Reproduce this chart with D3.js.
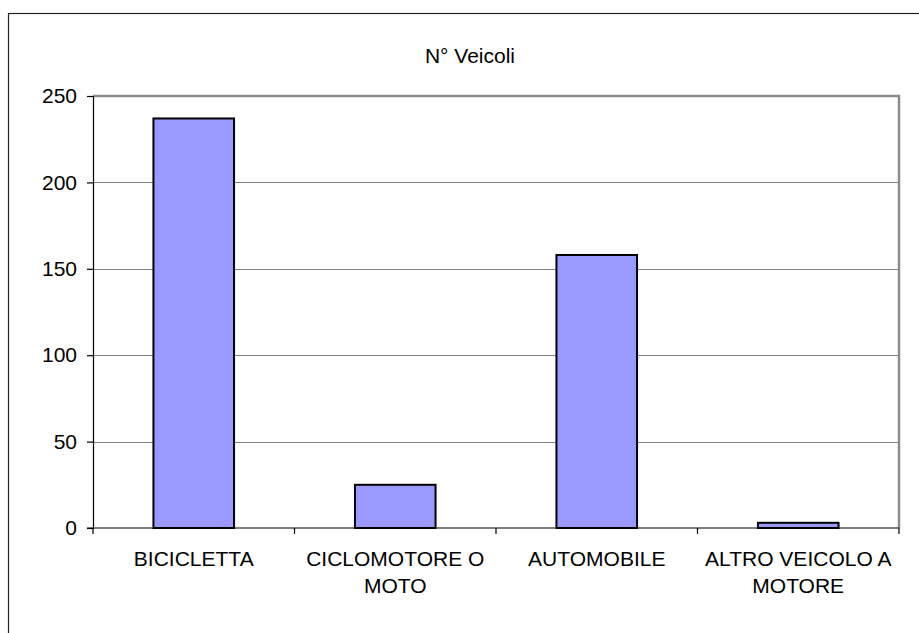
<!DOCTYPE html>
<html>
<head>
<meta charset="utf-8">
<script src="https://cdn.jsdelivr.net/npm/d3@7"></script>
<style>
  body { margin: 0; background: white; }
  svg { display: block; font-family: "Liberation Sans", Arial, sans-serif; }
</style>
</head>
<body>
<div id="chart"></div>
<script>
const categories = ["BICICLETTA", "CICLOMOTORE O MOTO", "AUTOMOBILE", "ALTRO VEICOLO A MOTORE"];
const labelLines = [["BICICLETTA"], ["CICLOMOTORE O", "MOTO"], ["AUTOMOBILE"], ["ALTRO VEICOLO A", "MOTORE"]];
const values = [237, 25, 158, 3];
const yTicks = [0, 50, 100, 150, 200, 250];
const title = "N° Veicoli";

const width = 919, height = 633;
const plot = { left: 93, top: 96, right: 899, bottom: 528 };

const svg = d3.select("#chart").append("svg")
    .attr("width", width)
    .attr("height", height);

// outer chart border (runs off the right and bottom edge)
svg.append("rect")
    .attr("x", 8.5).attr("y", 13.5)
    .attr("width", 1000).attr("height", 1000)
    .attr("fill", "white")
    .attr("stroke", "#222")
    .attr("stroke-width", 1.2);

const x = d3.scaleBand()
    .domain(categories)
    .range([plot.left, plot.right])
    .paddingInner(0.6)
    .paddingOuter(0.3);

const y = d3.scaleLinear()
    .domain([0, 250])
    .range([plot.bottom, plot.top]);

// gridlines
svg.append("g")
    .selectAll("line")
    .data(yTicks.filter(d => d > 0 && d < 250))
    .enter().append("line")
    .attr("x1", plot.left).attr("x2", plot.right)
    .attr("y1", d => Math.round(y(d)) + 0.5)
    .attr("y2", d => Math.round(y(d)) + 0.5)
    .attr("stroke", "#808080")
    .attr("stroke-width", 1);

// plot area border top/right
svg.append("path")
    .attr("d", `M${plot.left},${plot.top} H${plot.right} V${plot.bottom}`)
    .attr("fill", "none")
    .attr("stroke", "#8c8c8c")
    .attr("stroke-width", 2.5);

// bars
svg.append("g")
    .selectAll("rect")
    .data(values)
    .enter().append("rect")
    .attr("x", (d, i) => x(categories[i]))
    .attr("y", d => y(d))
    .attr("width", x.bandwidth())
    .attr("height", d => y(0) - y(d))
    .attr("fill", "#9999FF")
    .attr("stroke", "#000")
    .attr("stroke-width", 2);

// y axis
const yAxis = svg.append("g")
    .attr("transform", `translate(${plot.left},0)`)
    .call(d3.axisLeft(y).tickValues(yTicks).tickSize(6).tickPadding(10));
yAxis.selectAll("path, line").attr("stroke", "#000").attr("stroke-width", 1.2);
yAxis.selectAll("text")
    .attr("font-size", "21px")
    .attr("font-family", "Liberation Sans, Arial, sans-serif")
    .attr("fill", "#000");

// x axis: ticks at category boundaries
const boundaries = d3.range(categories.length + 1).map(i => plot.left + i * x.step() - (i === 0 ? 0 : 0));
const bottomAxis = svg.append("g");
bottomAxis.append("line")
    .attr("x1", plot.left - 6).attr("x2", plot.right)
    .attr("y1", plot.bottom).attr("y2", plot.bottom)
    .attr("stroke", "#000").attr("stroke-width", 1.2);
bottomAxis.selectAll(".tk")
    .data(d3.range(categories.length + 1))
    .enter().append("line")
    .attr("class", "tk")
    .attr("x1", i => plot.left + (plot.right - plot.left) * i / categories.length)
    .attr("x2", i => plot.left + (plot.right - plot.left) * i / categories.length)
    .attr("y1", plot.bottom).attr("y2", plot.bottom + 6)
    .attr("stroke", "#000").attr("stroke-width", 1.2);

// category labels
const lbl = svg.append("g")
    .selectAll("text")
    .data(categories)
    .enter().append("text")
    .attr("x", d => x(d) + x.bandwidth() / 2)
    .attr("y", 566)
    .attr("text-anchor", "middle")
    .attr("font-size", "21px")
    .attr("fill", "#000");
lbl.each(function (d, i) {
    d3.select(this).selectAll("tspan")
        .data(labelLines[i])
        .enter().append("tspan")
        .attr("x", x(d) + x.bandwidth() / 2)
        .attr("dy", (t, j) => j === 0 ? 0 : 27)
        .text(t => t);
});

// title
svg.append("text")
    .attr("x", 470)
    .attr("y", 63)
    .attr("text-anchor", "middle")
    .attr("font-size", "21px")
    .attr("fill", "#000")
    .text(title);
</script>
</body>
</html>
